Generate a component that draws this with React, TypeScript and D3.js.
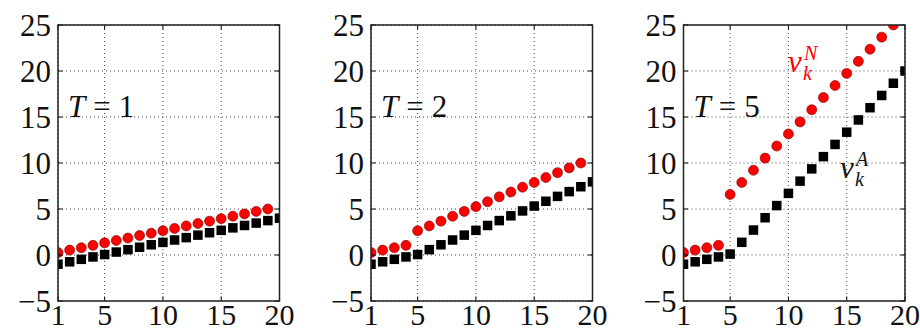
import { useRef, useEffect } from "react";
import * as d3 from "d3";

// stage index k
const kValues = [1, 2, 3, 4, 5, 6, 7, 8, 9, 10, 11, 12, 13, 14, 15, 16, 17, 18, 19, 20];

// v_k^N (red circles, k = 1..19)
const naiveT1 = [0.26, 0.53, 0.79, 1.05, 1.32, 1.58, 1.84, 2.11, 2.37, 2.63, 2.89, 3.16, 3.42, 3.68, 3.95, 4.21, 4.47, 4.74, 5.0];
const naiveT2 = [0.26, 0.53, 0.79, 1.05, 2.63, 3.16, 3.68, 4.21, 4.74, 5.26, 5.79, 6.32, 6.84, 7.37, 7.89, 8.42, 8.95, 9.47, 10.0];
const naiveT5 = [0.26, 0.53, 0.79, 1.05, 6.58, 7.89, 9.21, 10.53, 11.84, 13.16, 14.47, 15.79, 17.11, 18.42, 19.74, 21.05, 22.37, 23.68, 25.0];

// v_k^A (black squares, k = 1..20)
const adaptT1 = [-1.0, -0.74, -0.47, -0.21, 0.05, 0.32, 0.58, 0.84, 1.11, 1.37, 1.63, 1.89, 2.16, 2.42, 2.68, 2.95, 3.21, 3.47, 3.74, 4.0];
const adaptT2 = [-1.0, -0.74, -0.47, -0.21, 0.05, 0.58, 1.11, 1.63, 2.16, 2.68, 3.21, 3.74, 4.26, 4.79, 5.32, 5.84, 6.37, 6.89, 7.42, 7.95];
const adaptT5 = [-1.0, -0.74, -0.47, -0.21, 0.1, 1.38, 2.71, 4.05, 5.37, 6.7, 8.03, 9.36, 10.69, 12.02, 13.35, 14.68, 16.01, 17.34, 18.67, 20.0];

const panelLabels = ["1", "2", "5"];
const xTicks = [1, 5, 10, 15, 20];
const yTicks = [-5, 0, 5, 10, 15, 20, 25];

const panels = [
  { T: panelLabels[0], naive: naiveT1, adapt: adaptT1 },
  { T: panelLabels[1], naive: naiveT2, adapt: adaptT2 },
  { T: panelLabels[2], naive: naiveT5, adapt: adaptT5 },
];

const WIDTH = 920;
const HEIGHT = 331;
const FONT = "'Liberation Serif', 'DejaVu Serif', serif";

function SmallMultiples() {
  const svgRef = useRef<SVGSVGElement>(null);

  useEffect(() => {
    const svg = d3.select(svgRef.current);
    svg.selectAll("*").remove();

    const lefts = [58, 371, 683.5];
    const pw = 221.5;
    const top = 25;
    const bottom = 301;

    const y = d3.scaleLinear().domain([-5, 25]).range([bottom, top]);
    const defs = svg.append("defs");

    panels.forEach((p, pi) => {
      const x0 = lefts[pi];
      const x = d3.scaleLinear().domain([1, 20]).range([x0, x0 + pw]);
      const g = svg.append("g");

      defs.append("clipPath").attr("id", `clip-${pi}`)
        .append("rect")
        .attr("x", x0).attr("y", top)
        .attr("width", pw).attr("height", bottom - top);

      // dotted grid
      xTicks.forEach(t => {
        g.append("line")
          .attr("x1", x(t)).attr("x2", x(t))
          .attr("y1", top).attr("y2", bottom)
          .attr("stroke", "#333").attr("stroke-width", 0.9)
          .attr("stroke-dasharray", "1,3");
      });
      yTicks.forEach(t => {
        g.append("line")
          .attr("x1", x0).attr("x2", x0 + pw)
          .attr("y1", y(t)).attr("y2", y(t))
          .attr("stroke", "#333").attr("stroke-width", 0.9)
          .attr("stroke-dasharray", "1,3");
      });

      // markers
      const marks = g.append("g").attr("clip-path", `url(#clip-${pi})`);
      const sq = 9.5;
      marks.selectAll("rect.adapt")
        .data(p.adapt)
        .join("rect")
        .attr("x", (d, i) => x(kValues[i]) - sq / 2)
        .attr("y", d => y(d) - sq / 2)
        .attr("width", sq).attr("height", sq)
        .attr("fill", "#000");
      marks.selectAll("circle.naive")
        .data(p.naive)
        .join("circle")
        .attr("cx", (d, i) => x(kValues[i]))
        .attr("cy", d => y(d))
        .attr("r", 5)
        .attr("fill", "#ff0000")
        .attr("stroke", "#7a0000")
        .attr("stroke-width", 0.6);

      // inward ticks on all four sides
      const tl = 4.5;
      xTicks.forEach(t => {
        g.append("line").attr("x1", x(t)).attr("x2", x(t))
          .attr("y1", bottom).attr("y2", bottom - tl)
          .attr("stroke", "#000").attr("stroke-width", 1);
        g.append("line").attr("x1", x(t)).attr("x2", x(t))
          .attr("y1", top).attr("y2", top + tl)
          .attr("stroke", "#000").attr("stroke-width", 1);
      });
      yTicks.forEach(t => {
        g.append("line").attr("x1", x0).attr("x2", x0 + tl)
          .attr("y1", y(t)).attr("y2", y(t))
          .attr("stroke", "#000").attr("stroke-width", 1);
        g.append("line").attr("x1", x0 + pw).attr("x2", x0 + pw - tl)
          .attr("y1", y(t)).attr("y2", y(t))
          .attr("stroke", "#000").attr("stroke-width", 1);
      });

      // frame
      g.append("rect")
        .attr("x", x0).attr("y", top)
        .attr("width", pw).attr("height", bottom - top)
        .attr("fill", "none")
        .attr("stroke", "#222").attr("stroke-width", 1.5);

      // tick labels
      xTicks.forEach(t => {
        g.append("text")
          .attr("x", x(t)).attr("y", 325)
          .attr("text-anchor", "middle")
          .attr("font-family", FONT).attr("font-size", 30)
          .attr("fill", "#111")
          .text(t);
      });
      yTicks.forEach(t => {
        g.append("text")
          .attr("x", x0 - 7).attr("y", y(t) + 10.5)
          .attr("text-anchor", "end")
          .attr("font-family", FONT).attr("font-size", 31)
          .attr("fill", "#111")
          .text(t < 0 ? `\u2212${-t}` : `${t}`);
      });

      // T = n annotation
      const ann = g.append("text")
        .attr("x", x0 + 10).attr("y", 117)
        .attr("font-family", FONT).attr("font-size", 31)
        .attr("fill", "#111");
      ann.append("tspan").attr("font-style", "italic").text("T");
      ann.append("tspan").attr("dx", 8).text("=");
      ann.append("tspan").attr("dx", 8).text(p.T);
    });

    // series labels in the T = 5 panel
    const addLabel = (xv: number, yv: number, sup: string, color: string) => {
      const lg = svg.append("g").attr("fill", color).attr("font-family", FONT).attr("font-style", "italic");
      lg.append("text").attr("x", xv).attr("y", yv).attr("font-size", 31).text("v");
      lg.append("text").attr("x", xv + 16).attr("y", yv - 12).attr("font-size", 20).text(sup);
      lg.append("text").attr("x", xv + 15).attr("y", yv + 8).attr("font-size", 20).text("k");
    };
    addLabel(788, 72, "N", "#ff0000");
    addLabel(840, 178, "A", "#111");
  }, []);

  return (
    <svg
      ref={svgRef}
      width={WIDTH}
      height={HEIGHT}
      style={{ position: "absolute", left: 0, top: 0, display: "block", background: "#fff" }}
    />
  );
}

export default function App() {
  return <SmallMultiples />;
}
